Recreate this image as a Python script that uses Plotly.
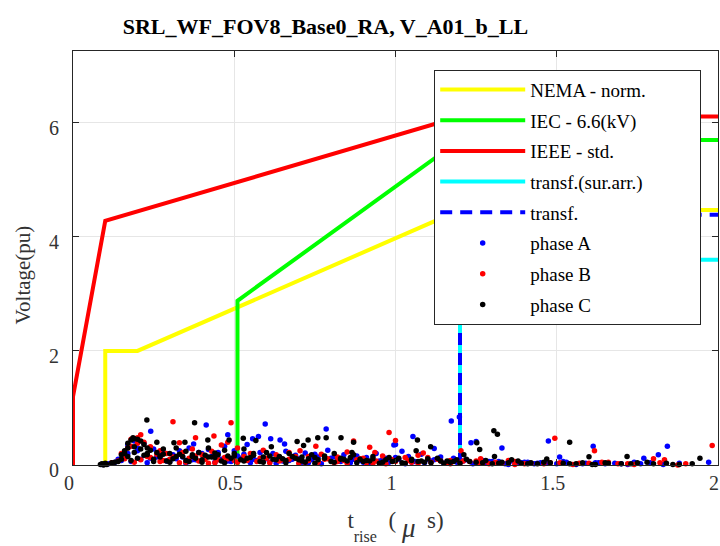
import plotly.graph_objects as go

# ---- limit curves ----
nema_x = [0.1, 0.1, 0.2, 1.2, 2.0]
nema_y = [0.0, 2.0, 2.0, 4.47, 4.47]
iec_x = [0.51, 0.51, 1.2, 2.0]
iec_y = [0.0, 2.88, 5.7, 5.7]
ieee_x = [0.0, 0.0, 0.1, 1.2, 2.0]
ieee_y = [0.0, 1.2, 4.28, 6.11, 6.11]
tsa_x = [1.2, 1.2, 2.0]
tsa_y = [0.0, 3.6, 3.6]
tr_x = [1.2, 1.2, 2.0]
tr_y = [0.0, 4.39, 4.39]

# ---- phase A (blue) ----
a_x = [0.241, 0.413, 0.48, 0.374, 0.42, 0.596, 0.785, 1.0, 0.613, 0.642, 0.656, 0.557, 0.575,
       1.173, 1.198, 1.234, 1.25, 1.33, 1.054, 0.995, 1.12, 1.474, 1.613, 1.843, 1.971, 1.815,
       1.77, 1.509,
       0.17, 0.19, 0.2, 0.22, 0.25, 0.28, 0.31, 0.33, 0.36, 0.40, 0.45, 0.47, 0.50, 0.53, 0.54,
       0.58, 0.62, 0.66, 0.69, 0.72, 0.75, 0.79, 0.81, 0.84, 0.88, 0.91, 0.94, 0.97, 1.02, 1.04,
       1.08, 1.10, 1.14, 1.18, 1.22, 1.27, 1.30, 1.36, 1.41, 1.45,
       0.09, 0.11, 0.13, 0.15, 0.16, 0.18, 0.21, 0.23, 0.26, 0.29, 0.32, 0.35, 0.38, 0.41, 0.44,
       0.46, 0.49, 0.52, 0.55, 0.57, 0.60, 0.63, 0.65, 0.68, 0.71, 0.74, 0.77, 0.80, 0.83, 0.86,
       0.89, 0.92, 0.95, 0.98, 1.01, 1.03, 1.06, 1.09, 1.12, 1.15, 1.19, 1.21, 1.24, 1.28, 1.32,
       1.35, 1.38, 1.40, 1.43, 1.47, 1.50, 1.53, 1.56, 1.59, 1.62, 1.65, 1.68, 1.72, 1.76, 1.79]
a_y = [0.59, 0.70, 0.53, 0.37, 0.27, 0.72, 0.63, 0.36, 0.46, 0.44, 0.37, 0.46, 0.50,
       0.77, 0.84, 0.39, 0.41, 0.30, 0.50, 0.35, 0.29, 0.42, 0.33, 0.33, 0.05, 0.18,
       0.12, 0.14,
       0.35, 0.42, 0.30, 0.38, 0.28, 0.22, 0.18, 0.25, 0.30, 0.20, 0.22, 0.33, 0.25, 0.19, 0.36,
       0.22, 0.20, 0.24, 0.17, 0.21, 0.19, 0.26, 0.15, 0.18, 0.16, 0.13, 0.20, 0.12, 0.24, 0.15,
       0.19, 0.10, 0.14, 0.12, 0.09, 0.08, 0.06, 0.07, 0.05, 0.04,
       0.01, 0.02, 0.05, 0.08, 0.12, 0.06, 0.10, 0.04, 0.14, 0.07, 0.11, 0.03, 0.09, 0.13, 0.05,
       0.10, 0.06, 0.12, 0.04, 0.08, 0.11, 0.03, 0.07, 0.10, 0.05, 0.09, 0.02, 0.12, 0.06, 0.04,
       0.08, 0.03, 0.07, 0.05, 0.10, 0.02, 0.06, 0.04, 0.09, 0.03, 0.05, 0.07, 0.02, 0.04, 0.06,
       0.01, 0.03, 0.05, 0.02, 0.04, 0.02, 0.05, 0.01, 0.03, 0.04, 0.02, 0.03, 0.01, 0.02, 0.04]
a_x2 = [0.14, 0.17, 0.20, 0.24, 0.27, 0.30, 0.34, 0.37, 0.39, 0.43,
        0.48, 0.51, 0.56, 0.61, 0.64, 0.67, 0.70, 0.73, 0.76, 0.82,
        0.87, 0.90, 0.96, 1.00, 1.05, 1.11, 1.16, 1.20, 1.26, 1.29,
        1.34, 1.39, 1.44, 1.52, 1.58, 1.63, 1.70, 1.74, 1.83, 1.88]
a_y2 = [0.10, 0.20, 0.25, 0.12, 0.17, 0.06, 0.14, 0.09, 0.22, 0.15,
        0.07, 0.16, 0.10, 0.05, 0.13, 0.08, 0.11, 0.04, 0.14, 0.07,
        0.10, 0.05, 0.09, 0.13, 0.05, 0.07, 0.04, 0.08, 0.03, 0.06,
        0.02, 0.04, 0.03, 0.06, 0.02, 0.04, 0.02, 0.05, 0.01, 0.03]

# ---- phase B (red) ----
b_x = [0.31, 0.49, 0.21, 0.38, 0.437, 0.33, 0.98, 1.0, 0.87, 0.92, 0.936, 0.753, 0.704,
       1.086, 1.203, 1.264, 1.494, 1.617, 1.982, 1.875, 1.80, 1.834,
       0.17, 0.18, 0.20, 0.22, 0.24, 0.27, 0.29, 0.34, 0.37, 0.40, 0.43, 0.46, 0.48, 0.51, 0.55,
       0.59, 0.63, 0.67, 0.73, 0.77, 0.82, 0.85, 0.90, 0.96, 1.03, 1.07, 1.13, 1.17, 1.25, 1.31,
       1.37,
       0.10, 0.12, 0.14, 0.16, 0.19, 0.21, 0.24, 0.27, 0.30, 0.33, 0.36, 0.39, 0.42, 0.45, 0.48,
       0.51, 0.54, 0.58, 0.61, 0.64, 0.67, 0.70, 0.73, 0.76, 0.79, 0.82, 0.85, 0.88, 0.91, 0.94,
       0.97, 1.00, 1.04, 1.07, 1.11, 1.14, 1.17, 1.20, 1.23, 1.26, 1.29, 1.33, 1.37, 1.42, 1.46,
       1.51, 1.55, 1.60, 1.64, 1.69, 1.74]
b_y = [0.76, 0.74, 0.53, 0.48, 0.51, 0.39, 0.57, 0.43, 0.42, 0.31, 0.22, 0.33, 0.25,
       0.21, 0.25, 0.11, 0.47, 0.25, 0.34, 0.00, 0.11, 0.09,
       0.30, 0.45, 0.48, 0.40, 0.32, 0.25, 0.20, 0.22, 0.28, 0.18, 0.24, 0.35, 0.40, 0.30, 0.20,
       0.26, 0.18, 0.22, 0.15, 0.19, 0.14, 0.23, 0.12, 0.16, 0.13, 0.17, 0.10, 0.08, 0.07, 0.05,
       0.06,
       0.02, 0.04, 0.07, 0.11, 0.05, 0.09, 0.13, 0.06, 0.10, 0.04, 0.12, 0.07, 0.03, 0.09, 0.11,
       0.05, 0.08, 0.12, 0.04, 0.07, 0.10, 0.03, 0.08, 0.05, 0.11, 0.06, 0.03, 0.09, 0.04, 0.07,
       0.02, 0.06, 0.08, 0.03, 0.05, 0.07, 0.02, 0.04, 0.06, 0.03, 0.02, 0.04, 0.01, 0.03, 0.02,
       0.04, 0.01, 0.03, 0.05, 0.02, 0.01]
b_x2 = [0.15, 0.18, 0.20, 0.23, 0.26, 0.28, 0.31, 0.35, 0.38, 0.41,
        0.44, 0.47, 0.50, 0.53, 0.57, 0.60, 0.65, 0.69, 0.72, 0.78,
        0.81, 0.84, 0.89, 0.93, 0.99, 1.05, 1.10, 1.16, 1.21, 1.27,
        1.35, 1.40, 1.48, 1.57, 1.66, 1.72, 1.82, 1.90]
b_y2 = [0.20, 0.33, 0.38, 0.15, 0.19, 0.08, 0.14, 0.05, 0.16, 0.10,
        0.04, 0.13, 0.08, 0.15, 0.06, 0.12, 0.09, 0.15, 0.05, 0.10,
        0.04, 0.08, 0.11, 0.03, 0.09, 0.05, 0.13, 0.04, 0.07, 0.03,
        0.08, 0.02, 0.04, 0.03, 0.05, 0.02, 0.04, 0.02]

# ---- phase C (black) ----
c_x = [0.229, 0.377, 0.186, 0.26, 0.313, 0.347, 0.418, 0.484, 0.759, 0.785, 0.831, 0.87, 0.729,
       0.695, 0.615, 0.528, 0.567, 0.865, 0.715, 1.305, 1.316, 1.252, 1.261, 1.068, 1.109, 1.064,
       1.212, 1.307, 1.469, 1.54, 1.944, 1.718, 1.6,
       0.16, 0.17, 0.18, 0.19, 0.20, 0.21, 0.22, 0.23, 0.24, 0.26, 0.28, 0.30, 0.32, 0.35, 0.39,
       0.42, 0.45, 0.47, 0.50, 0.53, 0.56, 0.60, 0.64, 0.67, 0.71, 0.74, 0.78, 0.81, 0.86, 0.89,
       0.93, 0.97, 1.01, 1.05, 1.10, 1.14, 1.19, 1.23, 1.28, 1.33, 1.38, 1.42,
       0.085, 0.09, 0.095, 0.10, 0.105, 0.12, 0.14, 0.15, 0.17, 0.18, 0.20, 0.22, 0.25, 0.27, 0.29,
       0.31, 0.34, 0.36, 0.38, 0.40, 0.43, 0.46, 0.49, 0.52, 0.55, 0.58, 0.62, 0.66, 0.69, 0.72,
       0.76, 0.80, 0.84, 0.88, 0.92, 0.96, 1.00, 1.03, 1.07, 1.11, 1.16, 1.20, 1.25, 1.30, 1.35,
       1.39, 1.44, 1.48, 1.52, 1.56, 1.58, 1.62, 1.66, 1.70, 1.75, 1.80, 1.84, 1.88, 1.92,
       0.16, 0.19, 0.23, 0.27, 0.33, 0.37, 0.41, 0.44, 0.48, 0.54, 0.59, 0.65, 0.70, 0.75, 0.83,
       0.91, 0.99, 1.08, 1.17]
c_y = [0.79, 0.74, 0.48, 0.40, 0.39, 0.40, 0.44, 0.44, 0.48, 0.48, 0.48, 0.40, 0.44,
       0.41, 0.32, 0.47, 0.43, 0.22, 0.34, 0.60, 0.54, 0.39, 0.27, 0.44, 0.32, 0.25,
       0.18, 0.15, 0.105, 0.40, 0.12, 0.15, 0.145,
       0.25, 0.38, 0.44, 0.46, 0.45, 0.42, 0.36, 0.30, 0.26, 0.22, 0.28, 0.20, 0.30, 0.24, 0.22,
       0.30, 0.18, 0.26, 0.20, 0.28, 0.17, 0.22, 0.15, 0.20, 0.14, 0.18, 0.12, 0.20, 0.13, 0.10,
       0.15, 0.09, 0.12, 0.08, 0.11, 0.07, 0.09, 0.06, 0.08, 0.05, 0.07, 0.04,
       0.01, 0.02, 0.00, 0.03, 0.01, 0.04, 0.06, 0.10, 0.15, 0.08, 0.12, 0.17, 0.10, 0.14, 0.07,
       0.11, 0.15, 0.06, 0.12, 0.09, 0.14, 0.07, 0.12, 0.09, 0.13, 0.06, 0.10, 0.08, 0.12, 0.05,
       0.09, 0.06, 0.10, 0.04, 0.07, 0.05, 0.08, 0.03, 0.06, 0.04, 0.07, 0.03, 0.05, 0.02, 0.04,
       0.03, 0.02, 0.04, 0.03, 0.02, 0.04, 0.01, 0.03, 0.02, 0.04, 0.02, 0.03, 0.01, 0.02,
       0.20, 0.32, 0.18, 0.16, 0.19, 0.15, 0.17, 0.13, 0.16, 0.12, 0.14, 0.11, 0.09, 0.13, 0.10,
       0.08, 0.06, 0.07, 0.05]
c_x2 = [0.13, 0.15, 0.17, 0.19, 0.21, 0.23, 0.25, 0.28, 0.30, 0.32,
        0.35, 0.37, 0.40, 0.42, 0.44, 0.47, 0.50, 0.53, 0.56, 0.59,
        0.61, 0.63, 0.66, 0.68, 0.71, 0.73, 0.75, 0.78, 0.81, 0.83,
        0.85, 0.87, 0.90, 0.93, 0.95, 0.98, 1.02, 1.05, 1.09, 1.13,
        1.15, 1.18, 1.22, 1.27, 1.32, 1.36, 1.41, 1.46, 1.54, 1.61,
        1.65, 1.73, 1.78, 1.86]
c_y2 = [0.05, 0.18, 0.30, 0.22, 0.28, 0.20, 0.06, 0.19, 0.05, 0.15,
        0.08, 0.18, 0.05, 0.14, 0.21, 0.04, 0.16, 0.07, 0.20, 0.05,
        0.16, 0.09, 0.04, 0.15, 0.07, 0.11, 0.03, 0.16, 0.05, 0.12,
        0.07, 0.18, 0.06, 0.11, 0.03, 0.13, 0.04, 0.10, 0.05, 0.12,
        0.03, 0.06, 0.10, 0.04, 0.03, 0.09, 0.02, 0.05, 0.02, 0.01,
        0.04, 0.02, 0.05, 0.01]

x_ticks = [0, 0.5, 1, 1.5, 2]
x_labels = ["0", "0.5", "1", "1.5", "2"]
y_ticks = [0, 2, 4, 6]
y_labels = ["0", "2", "4", "6"]

FONT = "Liberation Serif"
NB = "\u00a0"
fig = go.Figure()

def line(x, y, name, color, dash="solid"):
    fig.add_trace(go.Scatter(x=x, y=y, mode="lines", name=name, legendgroup=name,
                             cliponaxis=False, line=dict(color=color, width=4, dash=dash)))

line(nema_x, nema_y, "NEMA - norm.", "#FFFF00")
line(iec_x, iec_y, "IEC - 6.6(kV)", "#00FF00")
line(ieee_x, ieee_y, "IEEE - std.", "#FF0000")
line(tsa_x, tsa_y, "transf.(sur.arr.)" + NB * 11, "#00FFFF")
line(tr_x, tr_y, "transf.", "#0000FF", dash="12px,8px")

def pts(x, y, name, color):
    fig.add_trace(go.Scatter(x=x, y=y, mode="markers", name=name, legendgroup=name,
                             cliponaxis=False,
                             marker=dict(color=color, size=5.5, line=dict(width=0))))

pts(a_x + a_x2, a_y + a_y2, "phase A", "#0000FF")
pts(b_x + b_x2, b_y + b_y2, "phase B", "#FF0000")
pts(c_x + c_x2, c_y + c_y2, "phase C", "#000000")

axis_common = dict(
    showline=True, linecolor="#262626", linewidth=1, mirror="ticks",
    ticks="inside", ticklen=6, tickcolor="#262626",
    showgrid=True, gridcolor="#e6e6e6", gridwidth=1, zeroline=False,
    tickfont=dict(family=FONT, size=20, color="#333333"),
    ticklabeloverflow="allow", automargin=False,
)

x_title = ("t<sub><span style='baseline-shift:-10px'>rise</span></sub>" + NB + NB + "("
           + NB + "<span style='font-size:27px;baseline-shift:-9px'><i>μ</i></span>"
           + NB + NB + "s)")

fig.update_layout(
    width=720, height=546,
    margin=dict(l=73, r=2, t=51, b=81, autoexpand=False),
    paper_bgcolor="white", plot_bgcolor="white",
    font=dict(family=FONT, color="#262626"),
    title=dict(text="<b>SRL_WF_FOV8_Base0_RA, V_A01_b_LL</b>", x=0.452, xanchor="center",
               y=0.952, yanchor="middle", font=dict(family=FONT, size=22, color="#000000")),
    xaxis=dict(range=[0, 2], tickvals=x_ticks, ticktext=x_labels, ticklabelshift=-4,
               title=dict(text=x_title, standoff=18,
                          font=dict(family=FONT, size=23, color="#333333")),
               **axis_common),
    yaxis=dict(range=[0, 7.26], tickvals=y_ticks, ticktext=y_labels,
               ticklabelstandoff=9, ticklabelshift=5,
               **axis_common),
    annotations=[dict(text="Voltage(pu)", textangle=-90, xref="paper", yref="paper",
                      x=-0.0775, y=0.458, xanchor="center", yanchor="middle", showarrow=False,
                      font=dict(family=FONT, size=21, color="#333333"))],
    legend=dict(x=0.56, y=0.955, xanchor="left", yanchor="top",
                bgcolor="white", bordercolor="#262626", borderwidth=1,
                font=dict(family=FONT, size=19, color="#000000"),
                itemwidth=85, tracegroupgap=3, traceorder="grouped"),
    showlegend=True,
)

fig.write_html("out.html")
